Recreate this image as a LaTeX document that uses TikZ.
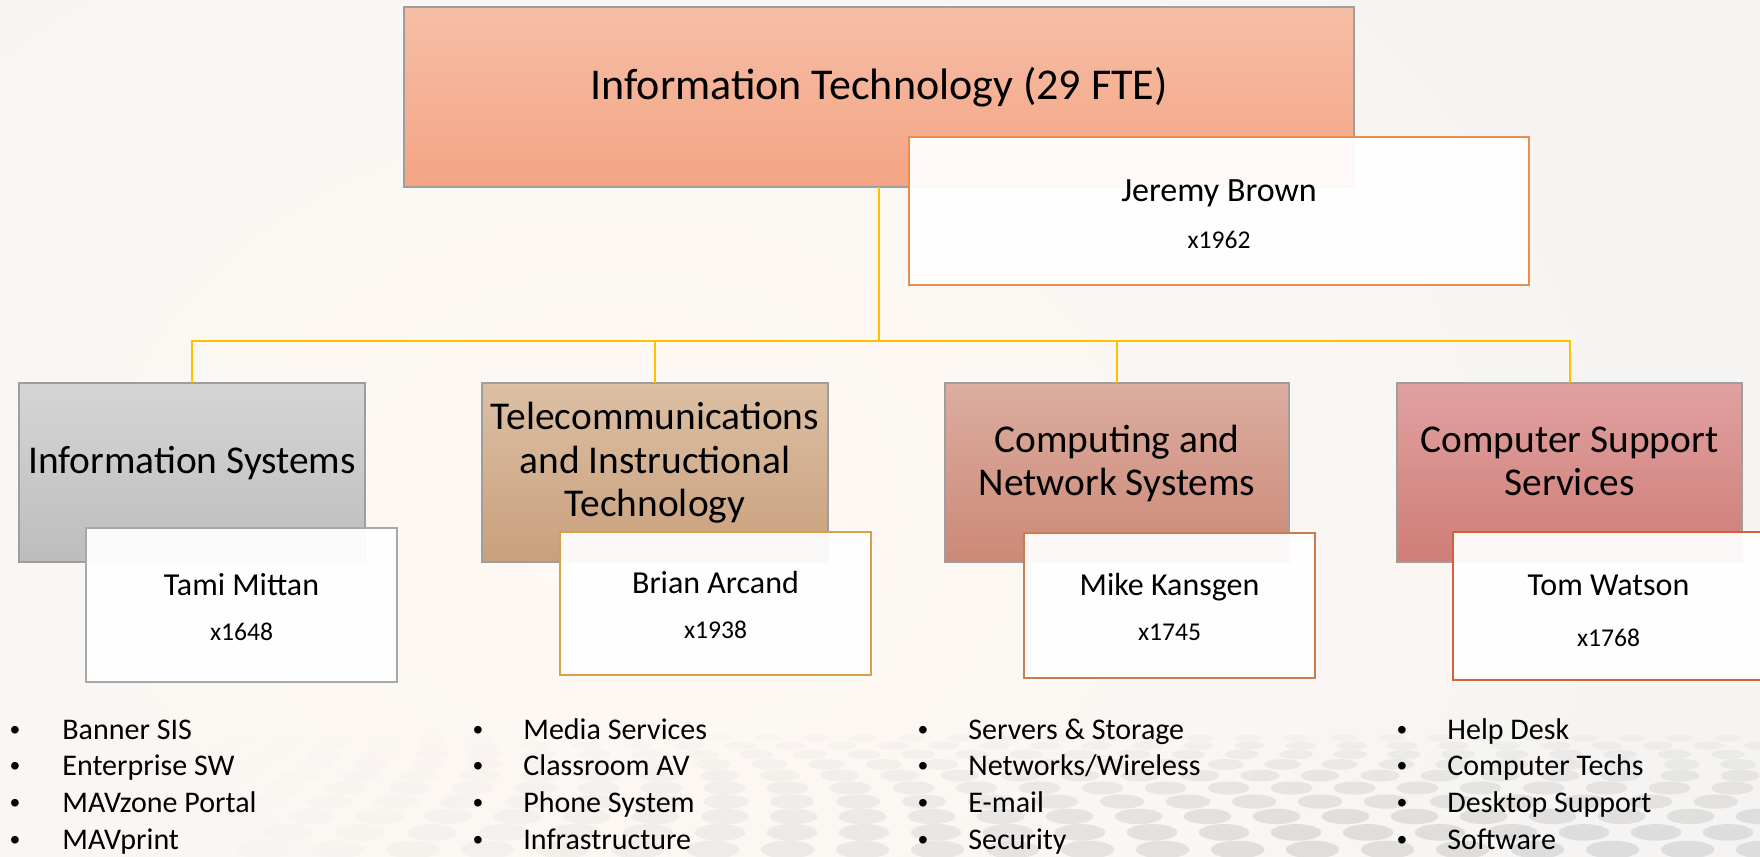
\documentclass[tikz,border=0pt]{standalone}
\usepackage{fontspec}
\setmainfont{Carlito}
\newfontfamily\bulletfont{Liberation Sans}
\usetikzlibrary{calc}

\definecolor{bgbase}{HTML}{F2F2F1}
\definecolor{bgwarm}{HTML}{FFF9F4}
\definecolor{dotcol}{HTML}{CFCFCF}
\definecolor{linkcol}{HTML}{FFC000}
\definecolor{itTop}{HTML}{F6BEA6}
\definecolor{itBot}{HTML}{F4A484}
\definecolor{isTop}{HTML}{D5D5D5}
\definecolor{isBot}{HTML}{BDBDBD}
\definecolor{teTop}{HTML}{DCBFA4}
\definecolor{teBot}{HTML}{C9A07C}
\definecolor{cnTop}{HTML}{DCADA0}
\definecolor{cnBot}{HTML}{CC8877}
\definecolor{csTop}{HTML}{E0A1A0}
\definecolor{csBot}{HTML}{CF7D77}
\definecolor{jbEdge}{HTML}{EE8B4E}
\definecolor{tmEdge}{HTML}{A8A8A8}
\definecolor{baEdge}{HTML}{D9A04C}
\definecolor{mkEdge}{HTML}{C97C4C}
\definecolor{twEdge}{HTML}{D2613C}

\begin{document}
\begin{tikzpicture}[x=0.5pt,y=-0.5pt,
  unitbox/.style={rectangle, inner sep=0pt, outer sep=0pt, draw=black!38, line width=0.6pt},
  namebox/.style={rectangle, inner sep=0pt, outer sep=0pt, fill=white, fill opacity=0.94, line width=0.7pt},
  conn/.style={draw=linkcol, line width=1pt},
  titletext/.style={font=\fontsize{22}{26}\selectfont, anchor=base, inner sep=0pt},
  depttext/.style={font=\fontsize{19.7}{23}\selectfont, anchor=base, inner sep=0pt},
  headtext/.style={font=\fontsize{17}{20}\selectfont, anchor=base, inner sep=0pt},
  whotext/.style={font=\fontsize{16}{19}\selectfont, anchor=base, inner sep=0pt},
  exttext/.style={font=\fontsize{12.8}{15}\selectfont, anchor=base, inner sep=0pt},
  itemtext/.style={font=\fontsize{15}{18}\selectfont, anchor=base west, inner sep=0pt},
  bulletmark/.style={font=\bulletfont\fontsize{14}{17}\selectfont, anchor=base, inner sep=0pt}
]
\clip (0,0) rectangle (1760,856);
\useasboundingbox (0,0) rectangle (1760,856);

% slide background: soft warm glow over light grey
\fill[bgbase] (0,0) rectangle (1760,856);
\shade[inner color=bgwarm, outer color=bgbase] (620,520) ellipse [x radius=1500, y radius=1150];

% dotted floor pattern along the bottom edge
\foreach \r in {0,...,10}{
  \pgfmathsetmacro{\yy}{738+7*\r+0.6*\r*\r}
  \pgfmathsetmacro{\rx}{14+1.4*\r}
  \pgfmathsetmacro{\ry}{3.5+0.6*\r}
  \pgfmathsetmacro{\dx}{48+3*\r}
  \pgfmathsetmacro{\off}{mod(\r,2)*0.5*\dx}
  \foreach \c in {0,...,38}{
    \pgfmathsetmacro{\xx}{\off+\c*\dx}
    \pgfmathsetmacro{\op}{max(0,min(1,(\xx-200)/1100))*min(0.6,0.14+0.06*\r)}
    \fill[dotcol, opacity=\op] (\xx,\yy) ellipse [x radius=\rx, y radius=\ry];
  }
}

% department boxes
\node[unitbox, top color=itTop, bottom color=itBot, minimum width=475pt, minimum height=90pt] (top) at (879,97) {};
\node[unitbox, top color=isTop, bottom color=isBot, minimum width=173pt, minimum height=89.5pt] (is) at (192,472.5) {};
\node[unitbox, top color=teTop, bottom color=teBot, minimum width=173pt, minimum height=89.5pt] (tele) at (655,472.5) {};
\node[unitbox, top color=cnTop, bottom color=cnBot, minimum width=172pt, minimum height=89.5pt] (cns) at (1117,472.5) {};
\node[unitbox, top color=csTop, bottom color=csBot, minimum width=172.5pt, minimum height=89.5pt] (css) at (1569.5,472.5) {};

% reporting lines
\coordinate (bus) at (879,341);
\foreach \d in {is,tele,cns,css}
  \draw[conn] (top.south) -- (bus) -| (\d.north);

% department titles
\node[titletext] (ttop) at (879,100) {Information Technology (29 FTE)};
\node[depttext] (tis) at (192,473) {Information Systems};
\node[depttext] (tte1) at (655,429) {Telecommunications};
\node[depttext] (tte2) at (655,473) {and Instructional};
\node[depttext] (tte3) at (655,516) {Technology};
\node[depttext] (tcn1) at (1117,452) {Computing and};
\node[depttext] (tcn2) at (1117,495) {Network Systems};
\node[depttext] (tcs1) at (1569.5,452) {Computer Support};
\node[depttext] (tcs2) at (1569.5,495) {Services};

% manager boxes
\node[namebox, draw=jbEdge, minimum width=310pt, minimum height=74pt] (jb) at (1219,211) {};
\node[namebox, draw=tmEdge, minimum width=155.5pt, minimum height=77pt] (tm) at (241.5,605) {};
\node[namebox, draw=baEdge, minimum width=155.5pt, minimum height=71.5pt] (ba) at (715.5,603.5) {};
\node[namebox, draw=mkEdge, minimum width=145.5pt, minimum height=72.5pt] (mk) at (1169.5,605.5) {};
\node[namebox, draw=twEdge, minimum width=155.5pt, minimum height=74pt] (tw) at (1608.5,606) {};

\node[headtext] (jbn) at (1219,201) {Jeremy Brown};
\node[exttext] (jbx) at (1219,248) {x1962};
\node[whotext] (tmn) at (241.5,595) {Tami Mittan};
\node[exttext] (tmx) at (241.5,640) {x1648};
\node[whotext] (ban) at (715.5,593) {Brian Arcand};
\node[exttext] (bax) at (715.5,638) {x1938};
\node[whotext] (mkn) at (1169.5,595) {Mike Kansgen};
\node[exttext] (mkx) at (1169.5,640) {x1745};
\node[whotext] (twn) at (1608.5,595) {Tom Watson};
\node[exttext] (twx) at (1608.5,646) {x1768};

% service lists
\foreach \bx/\tx/\col/\items in {
    15/62/a/{Banner SIS,Enterprise SW,MAVzone Portal,MAVprint},
    478/523/b/{Media Services,Classroom AV,Phone System,Infrastructure},
    923/968/c/{Servers \& Storage,Networks/Wireless,E-mail,Security},
    1402/1447/d/{Help Desk,Computer Techs,Desktop Support,Software}}{
  \foreach \it [count=\k from 0] in \items {
    \pgfmathsetmacro{\yb}{739+36.8*\k}
    \node[bulletmark] (b\col\k) at (\bx,\yb) {•};
    \node[itemtext] (i\col\k) at (\tx,\yb) {\it};
  }
}
\end{tikzpicture}
\end{document}
